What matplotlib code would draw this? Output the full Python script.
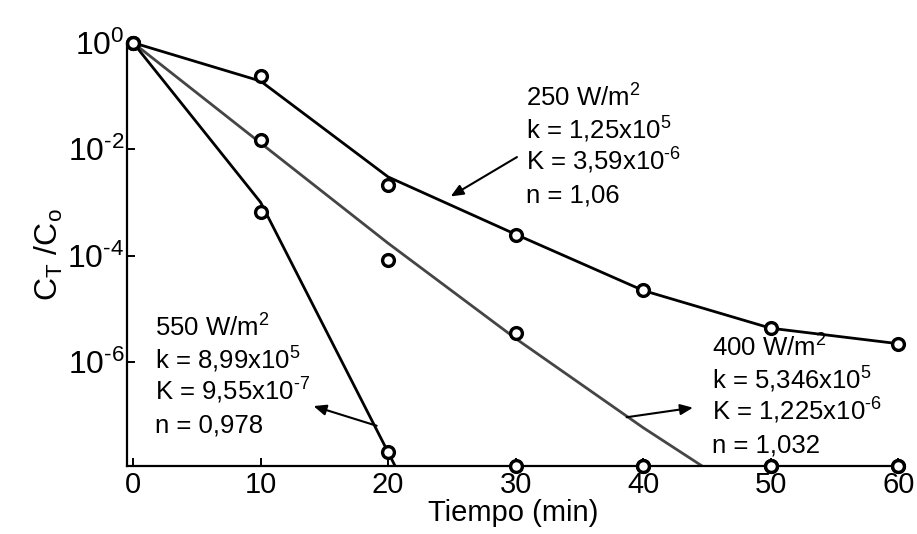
import matplotlib
matplotlib.use("Agg")
import matplotlib.pyplot as plt

plt.rcParams.update({
    "font.family": ["Liberation Sans", "DejaVu Sans"],
    "mathtext.fontset": "custom",
    "mathtext.rm": "Liberation Sans",
    "mathtext.it": "Liberation Sans:italic",
    "mathtext.bf": "Liberation Sans:bold",
})

# measured points (C_T/C_o); values sitting on the axis floor were below detection
FLOOR = 1.12e-8
time = [0, 10, 20, 30, 40, 50, 60]
exp_250 = [1, 0.236, 2.1e-3, 2.4e-4, 2.2e-5, 4.3e-6, 2.2e-6]
exp_400 = [1, 1.48e-2, 8.3e-5, 3.5e-6, FLOOR, FLOOR, FLOOR]
exp_550 = [1, 6.5e-4, 2.0e-8, FLOOR, FLOOR, FLOOR, FLOOR]

# model curves
t_250 = [0, 10, 20, 30, 40, 50, 60]
mod_250 = [1, 0.19, 3.0e-3, 2.5e-4, 2.2e-5, 4.3e-6, 2.2e-6]
t_400 = [0, 10, 20, 30, 40, 50]
mod_400 = [1, 1.3e-2, 1.7e-4, 2.75e-6, 5.8e-8, 1.6e-9]
t_550 = [0, 10, 20, 30]
mod_550 = [1, 1.0e-3, 2.0e-8, 4e-13]

labels_250 = ["250 W/m$^2$", "k = 1,25x10$^5$", "K = 3,59x10$^{\\text{-}6}$", "n = 1,06"]
labels_400 = ["400 W/m$^2$", "k = 5,346x10$^5$", "K = 1,225x10$^{\\text{-}6}$", "n = 1,032"]
labels_550 = ["550 W/m$^2$", "k = 8,99x10$^5$", "K = 9,55x10$^{\\text{-}7}$", "n = 0,978"]

ytick_vals = [1, 1e-2, 1e-4, 1e-6]
ytick_labels = ["$\\mathregular{10^{0}}$", "$\\mathregular{10^{\\text{-}2}}$",
                "$\\mathregular{10^{\\text{-}4}}$", "$\\mathregular{10^{\\text{-}6}}$"]

W, H = 917, 534
fig = plt.figure(figsize=(W / 100, H / 100), dpi=100)
ax = fig.add_axes([127.3 / W, 1 - 465.7 / H, (898.3 - 127.3) / W, (465.7 - 42.7) / H])

LINE_GRAY = "#454545"
ax.plot(t_250, mod_250, color="black", lw=2.0, zorder=2)
ax.plot(t_400, mod_400, color=LINE_GRAY, lw=2.0, zorder=2)
ax.plot(t_550, mod_550, color="black", lw=2.0, zorder=2)
for y in (exp_250, exp_400, exp_550):
    ax.plot(time, y, ls="none", marker="o", ms=8.5, mfc="white", mec="black",
            mew=2.4, clip_on=False, zorder=3)

ax.set_yscale("log")
ax.set_xlim(-0.45, 60)
ax.set_ylim(FLOOR, 1)
ax.set_yticks(ytick_vals)
ax.set_yticklabels(ytick_labels)
ax.yaxis.set_minor_locator(matplotlib.ticker.NullLocator())
ax.set_xticks(time)

for s in ("top", "right"):
    ax.spines[s].set_visible(False)
for s in ("left", "bottom"):
    ax.spines[s].set_linewidth(1.6)
ax.tick_params(axis="both", direction="in", length=5.5, width=1.4, labelsize=21)
ax.tick_params(axis="y", pad=2, labelsize=23)
ax.tick_params(axis="x", pad=4)

ax.set_xlabel("Tiempo (min)", fontsize=21, labelpad=0)
ax.set_ylabel("C$_\\mathregular{T}$ /C$_\\mathregular{o}$", fontsize=23, labelpad=2)


def text_block(lines, x_px, y_px, step=31.7):
    for i, s in enumerate(lines):
        fig.text(x_px / W, 1 - (y_px + i * step) / H, s, fontsize=18.5,
                 va="baseline", ha="left")


text_block(labels_250, 526, 107)
text_block(labels_400, 711.7, 357)
text_block(labels_550, 155, 337)

arrow = dict(arrowstyle="-|>,head_length=0.75,head_width=0.32", color="black",
             lw=1.5, shrinkA=0, shrinkB=0)
ax.annotate("", xy=(24.9, 10 ** -2.89), xytext=(30.1, 10 ** -2.15), arrowprops=arrow)
ax.annotate("", xy=(14.15, 10 ** -6.83), xytext=(19.1, 10 ** -7.2), arrowprops=arrow)
ax.annotate("", xy=(43.9, 10 ** -6.86), xytext=(38.7, 10 ** -7.04), arrowprops=arrow)

fig.savefig("out.png", dpi=100)
